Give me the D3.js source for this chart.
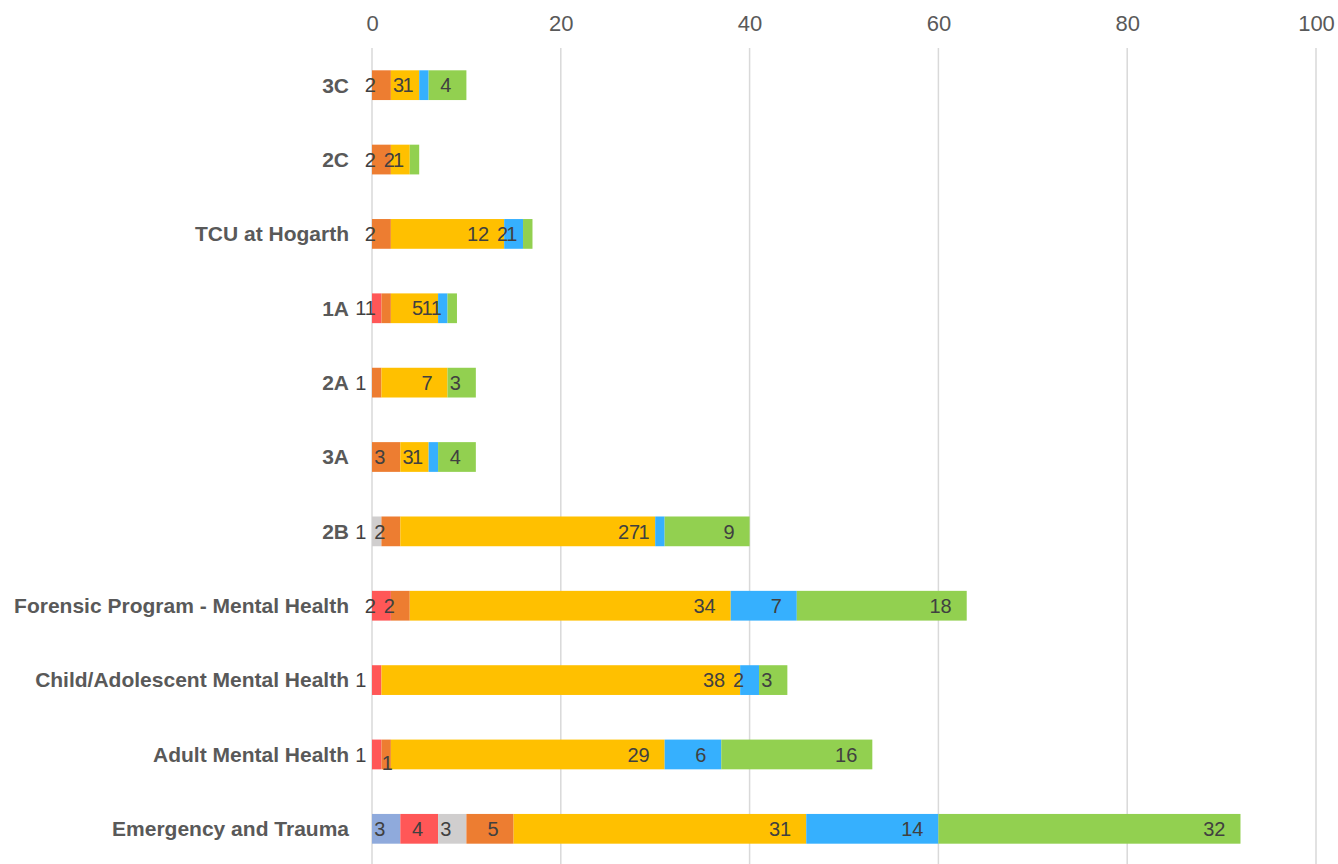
<!DOCTYPE html>
<html>
<head>
<meta charset="utf-8">
<script src="https://cdn.jsdelivr.net/npm/d3@7"></script>
<style>
	body { margin: 0; background: #fff; }
	svg { display: block; font-family: "Liberation Sans", Arial, sans-serif; }
</style>
</head>
<body>
<svg id="chart" width="1338" height="864"></svg>
<script>
// Categories, top to bottom
var categories = ['3C', '2C', 'TCU at Hogarth', '1A', '2A', '3A', '2B',
	'Forensic Program - Mental Health', 'Child/Adolescent Mental Health',
	'Adult Mental Health', 'Emergency and Trauma'];

// Stacked series, in stacking order (left to right)
var s1 = [0, 0, 0, 0, 0, 0, 0, 0, 0, 0, 3];
var s2 = [0, 0, 0, 1, 0, 0, 0, 2, 1, 1, 4];
var s3 = [0, 0, 0, 0, 0, 0, 1, 0, 0, 0, 3];
var s4 = [2, 2, 2, 1, 1, 3, 2, 2, 0, 1, 5];
var s5 = [3, 2, 12, 5, 7, 3, 27, 34, 38, 29, 31];
var s6 = [1, 0, 2, 1, 0, 1, 1, 7, 2, 6, 14];
var s7 = [4, 1, 1, 1, 3, 4, 9, 18, 3, 16, 32];

var seriesKeys = ['s1', 's2', 's3', 's4', 's5', 's6', 's7'];
var seriesColors = ['#8faadc', '#ff5757', '#d0cece', '#ed7d31', '#ffc000', '#36b0fe', '#92d050'];
var xTicks = [0, 20, 40, 60, 80, 100];

var table = categories.map(function(c, i) {
	return { cat: c, s1: s1[i], s2: s2[i], s3: s3[i], s4: s4[i], s5: s5[i], s6: s6[i], s7: s7[i] };
});

var svg = d3.select('#chart');
var margin = { left: 372, right: 22, top: 48, bottom: -2 };
var W = 1338, H = 864;

var x = d3.scaleLinear().domain([0, 100]).range([margin.left, W - margin.right]);
var y = d3.scaleBand().domain(categories)
	.range([margin.top, H - margin.bottom])
	.paddingInner(0.6).paddingOuter(0.3);

// Gridlines
svg.append('g').selectAll('line').data(xTicks).enter().append('line')
	.attr('x1', function(d) { return x(d); })
	.attr('x2', function(d) { return x(d); })
	.attr('y1', margin.top)
	.attr('y2', H)
	.attr('stroke', '#d9d9d9')
	.attr('stroke-width', 1.5);

// Top axis labels
var xAxis = d3.axisTop(x).tickValues(xTicks).tickSize(0).tickPadding(0);
var gx = svg.append('g').attr('transform', 'translate(0,31)').call(xAxis);
gx.select('.domain').remove();
gx.selectAll('text')
	.attr('font-size', 22)
	.attr('font-family', '"Liberation Sans", Arial, sans-serif')
	.attr('fill', '#595959')
	.attr('dy', 0);

// Stacks
var stack = d3.stack().keys(seriesKeys);
var layers = stack(table);

var gl = svg.append('g').selectAll('g').data(layers).enter().append('g')
	.attr('fill', function(d, i) { return seriesColors[i]; });

gl.selectAll('rect').data(function(d) { return d; }).enter().append('rect')
	.filter(function(d) { return d[1] - d[0] > 0; })
	.attr('x', function(d) { return x(d[0]); })
	.attr('y', function(d) { return y(d.data.cat); })
	.attr('width', function(d) { return x(d[1]) - x(d[0]); })
	.attr('height', y.bandwidth());

// Category labels
var gy = svg.append('g').attr('transform', 'translate(' + (margin.left - 23) + ',0)')
	.call(d3.axisLeft(y).tickSize(0).tickPadding(0));
gy.select('.domain').remove();
gy.selectAll('text')
	.attr('font-size', 21)
	.attr('font-weight', 'bold')
	.attr('font-family', '"Liberation Sans", Arial, sans-serif')
	.attr('fill', '#595959')
	.attr('dy', '0.35em');

// Value labels (inside end), Excel nudged one to avoid collision
var nudge = { 'Adult Mental Health|s4': [17, 8] };

var labels = [];
layers.forEach(function(layer) {
	layer.forEach(function(d) {
		var v = d[1] - d[0];
		if (v > 0) labels.push({ key: layer.key, cat: d.data.cat, end: d[1], v: v });
	});
});

svg.append('g').selectAll('text').data(labels).enter().append('text')
	.attr('x', function(d) {
		var n = nudge[d.cat + '|' + d.key];
		return x(d.end) - 15 + (n ? n[0] : 0);
	})
	.attr('y', function(d) {
		var n = nudge[d.cat + '|' + d.key];
		return y(d.cat) + y.bandwidth() / 2 + (n ? n[1] : 0);
	})
	.attr('dy', '0.36em')
	.attr('text-anchor', 'end')
	.attr('font-size', 20)
	.attr('fill', '#404040')
	.text(function(d) { return d.v; });
</script>
</body>
</html>
